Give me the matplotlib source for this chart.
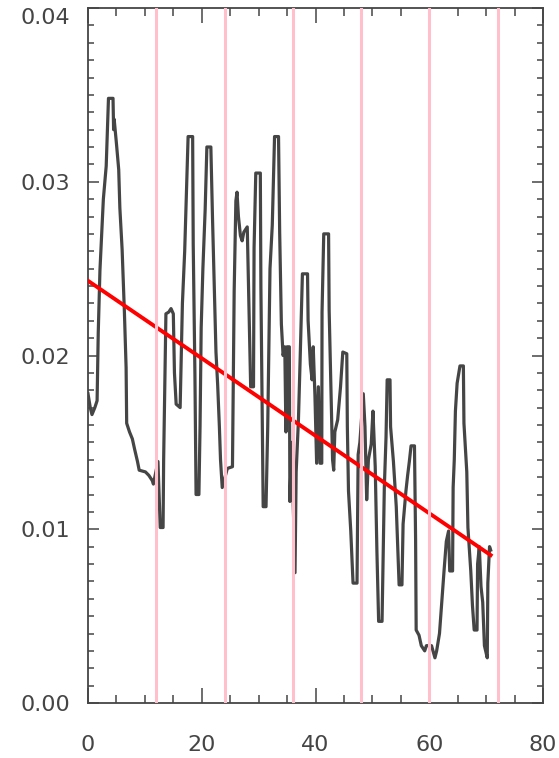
import matplotlib
matplotlib.use("Agg")
import matplotlib.pyplot as plt
import numpy as np
from matplotlib.ticker import MultipleLocator, FormatStrFormatter

# series
xs = [0, 0.4, 0.7, 1.2, 1.6, 1.8, 2.1, 2.7, 3.2, 3.4, 3.6, 4.4, 4.5, 4.6, 5.0, 5.4, 5.6,
      6.0, 6.4, 6.7, 6.8, 7.3, 7.8, 8.2, 8.7, 9.0, 10.1, 10.7, 11.3, 11.5, 12.3, 12.5,
      12.7, 13.2, 13.3, 13.5, 13.7, 14.2, 14.6, 15.0, 15.2, 15.5, 16.2, 16.4, 16.6,
      17.0, 17.3, 17.6, 18.4, 18.5, 18.8, 19.0, 19.5, 19.7, 19.9, 20.2, 20.6, 20.9,
      21.6, 21.9, 22.2, 22.5, 22.8, 23.1, 23.3, 23.6, 24.5, 25.4, 25.7, 26.0, 26.2,
      26.45, 26.8, 27.1, 27.4, 28.0, 28.3, 28.6, 29.1, 29.2, 29.5, 30.3, 30.4, 30.6,
      30.8, 31.3, 31.6, 31.8, 32.0, 32.4, 32.6, 32.8, 33.5, 33.7, 34.0, 34.3, 34.6,
      34.8, 35.0, 35.4, 35.5, 35.8, 36.2, 36.4, 36.6, 37.0, 37.3, 37.7, 38.6, 38.7,
      39.1, 39.4, 39.6, 39.9, 40.2, 40.5, 40.8, 41.1, 41.15, 41.45, 42.3, 42.4, 42.7,
      43.0, 43.2, 43.4, 43.9, 44.4, 44.8, 45.5, 45.6, 45.8, 46.2, 46.6, 47.3, 47.5,
      47.8, 48.4, 48.7, 49.0, 49.3, 49.8, 50.1, 50.5, 50.8, 51.1, 51.7, 51.9, 52.1,
      52.4, 52.6, 53.1, 53.2, 53.7, 54.2, 54.7, 55.2, 55.4, 55.9, 56.2, 56.5, 56.8,
      57.4, 57.6, 57.7, 58.2, 58.6, 59.2, 59.5, 60.4, 61.0, 61.3, 61.8, 62.2, 62.6,
      63.0, 63.4, 63.6, 64.1, 64.2, 64.4, 64.6, 64.9, 65.4, 66.0, 66.1, 66.6, 66.8,
      67.3, 67.6, 67.9, 68.4, 68.5, 68.8, 69.1, 69.4, 69.7, 70.2, 70.3, 70.6, 70.8]
ys = [0.0178, 0.0170, 0.0166, 0.0170, 0.0174, 0.0213, 0.0249, 0.0290, 0.0309, 0.0328,
      0.0348, 0.0348, 0.0330, 0.0336, 0.0322, 0.0307, 0.0285, 0.0261, 0.0225, 0.0193,
      0.0161, 0.0156, 0.0152, 0.0146, 0.0139, 0.0134, 0.0133, 0.0131, 0.0128, 0.0126,
      0.0139, 0.0120, 0.0101, 0.0101, 0.0140, 0.0183, 0.0224, 0.0225, 0.0227, 0.0224,
      0.0190, 0.0172, 0.0170, 0.0200, 0.0230, 0.0260, 0.0292, 0.0326, 0.0326, 0.0264,
      0.0189, 0.0120, 0.0120, 0.0159, 0.0216, 0.0250, 0.0284, 0.0320, 0.0320, 0.0278,
      0.0240, 0.0202, 0.0183, 0.0159, 0.0140, 0.0124, 0.0135, 0.0136, 0.0237, 0.0289,
      0.0294, 0.0280, 0.0269, 0.0266, 0.0271, 0.0274, 0.0228, 0.0182, 0.0182, 0.0262,
      0.0305, 0.0305, 0.0239, 0.0177, 0.0113, 0.0113, 0.0159, 0.0205, 0.0250, 0.0275,
      0.0300, 0.0326, 0.0326, 0.0271, 0.0218, 0.0200, 0.0205, 0.0156, 0.0205, 0.0205,
      0.0116, 0.0150, 0.0100, 0.0075, 0.0133, 0.0163, 0.0198, 0.0247, 0.0247, 0.0220,
      0.0195, 0.0186, 0.0205, 0.0177, 0.0138, 0.0182, 0.0138, 0.0138, 0.0225, 0.0270,
      0.0270, 0.0226, 0.0184, 0.0140, 0.0134, 0.0156, 0.0163, 0.0182, 0.0202, 0.0201,
      0.0159, 0.0122, 0.0099, 0.0069, 0.0069, 0.0143, 0.0150, 0.0178, 0.0159, 0.0117,
      0.0140, 0.0149, 0.0168, 0.0136, 0.0087, 0.0047, 0.0047, 0.0084, 0.0124, 0.0153,
      0.0186, 0.0186, 0.0159, 0.0139, 0.0113, 0.0068, 0.0068, 0.0103, 0.0122, 0.0131,
      0.0139, 0.0148, 0.0148, 0.0094, 0.0042, 0.0039, 0.0033, 0.0030, 0.0033, 0.0033,
      0.0026, 0.0030, 0.0040, 0.0058, 0.0076, 0.0093, 0.0099, 0.0076, 0.0076, 0.0124,
      0.0140, 0.0168, 0.0184, 0.0194, 0.0194, 0.0161, 0.0133, 0.0101, 0.0076, 0.0056,
      0.0042, 0.0042, 0.0080, 0.0090, 0.0067, 0.0058, 0.0033, 0.0026, 0.0069, 0.0090,
      0.0088]

# linear trend (intercept, slope)
fit_a = 0.0243
fit_b = -0.000223
marks = [12, 24, 36, 48, 60, 72]   # pink markers
yticks = [0.0, 0.01, 0.02, 0.03, 0.04]
xticks = [0, 20, 40, 60, 80]

fig = plt.figure(figsize=(5.59, 7.58), dpi=100)
ax = fig.add_axes([88/559, 55/758, 455/559, 695/758])

ax.plot(xs, ys, color='#454545', lw=2.3, zorder=2)
xf = np.array([xs[0], xs[-1]])
ax.plot(xf, fit_a + fit_b*xf, color='red', lw=2.8, zorder=3)
for m in marks:
    ax.axvline(m, color='#ffc0cb', lw=2.2, zorder=4)

ax.set_xlim(0, 80)
ax.set_ylim(0, 0.04)
ax.set_xticks(xticks)
ax.set_yticks(yticks, ['%.2f' % v for v in yticks])
ax.xaxis.set_minor_locator(MultipleLocator(5))
ax.yaxis.set_minor_locator(MultipleLocator(0.001))

gray = '#454545'
for s in ax.spines.values():
    s.set_color(gray)
    s.set_linewidth(1.3)
ax.tick_params(axis='both', which='both', direction='in', top=True, right=True,
               color=gray, width=1.1, labelcolor=gray, labelsize=16)
ax.tick_params(axis='x', which='major', length=10.8, pad=23)
ax.tick_params(axis='x', which='minor', length=5.8)
ax.tick_params(axis='y', which='major', length=8, pad=13)
ax.tick_params(axis='y', which='minor', length=4.3)
for lab in ax.get_yticklabels():
    if lab.get_text() == '0.04':
        lab.set_verticalalignment('top')

fig.savefig('out.png', dpi=100)
